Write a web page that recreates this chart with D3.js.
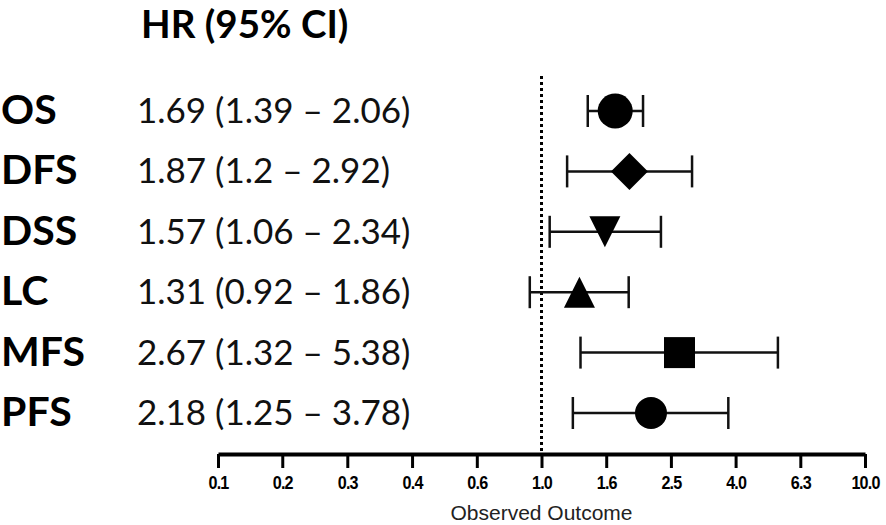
<!DOCTYPE html>
<html>
<head>
<meta charset="utf-8">
<script src="https://cdn.jsdelivr.net/npm/d3@7"></script>
<style>
  body { margin: 0; background: #fff; }
  svg { display: block; }
</style>
</head>
<body>
<div id="chart"></div>
<script>
// data
const outcomes = ["OS", "DFS", "DSS", "LC", "MFS", "PFS"]
const hr = [1.69, 1.87, 1.57, 1.31, 2.67, 2.18]
const lower = [1.39, 1.2, 1.06, 0.92, 1.32, 1.25]
const upper = [2.06, 2.92, 2.34, 1.86, 5.38, 3.78]
const shapes = ["circle", "diamond", "triangleDown", "triangle", "square", "circle"]
const tickValues = [0.1, 0.158, 0.251, 0.398, 0.631, 1.0, 1.585, 2.512, 3.981, 6.31, 10.0]
const tickLabels = ["0.1", "0.2", "0.3", "0.4", "0.6", "1.0", "1.6", "2.5", "4.0", "6.3", "10.0"]

const W = 886, H = 525
const svg = d3.select("#chart").append("svg")
    .attr("width", W)
    .attr("height", H)

const x = d3.scaleLog().domain([0.1, 10]).range([218, 865])
const y = d3.scalePoint().domain(outcomes).range([111, 413])
const axisY = 454

// header
svg.append("text")
    .attr("x", 141)
    .attr("y", 38)
    .attr("font-family", "Lato, sans-serif")
    .attr("font-weight", "bold")
    .attr("font-size", 38.5)
    .text("HR (95% CI)")

// row labels and HR text
const rows = svg.append("g").selectAll("g")
    .data(outcomes)
    .enter()
    .append("g")

rows.append("text")
    .attr("x", 1)
    .attr("y", d => y(d) + 13)
    .attr("font-family", "Lato, sans-serif")
    .attr("font-weight", "bold")
    .attr("font-size", 41)
    .text(d => d)

const fmt = v => String(v)
rows.append("text")
    .attr("x", 137)
    .attr("y", d => y(d) + 12)
    .attr("font-family", "Lato, sans-serif")
    .attr("font-size", 35)
    .attr("fill", "#111")
    .text((d, i) => `${fmt(hr[i])} (${fmt(lower[i])} \u2013 ${fmt(upper[i])})`)

// reference line at 1
svg.append("line")
    .attr("x1", x(1))
    .attr("x2", x(1))
    .attr("y1", 76)
    .attr("y2", axisY)
    .attr("stroke", "#000")
    .attr("stroke-width", 3)
    .attr("stroke-dasharray", "3,3")

// error bars
const bars = svg.append("g").selectAll("g")
    .data(outcomes)
    .enter()
    .append("g")
    .attr("stroke", "#111")
    .attr("stroke-width", 2.5)

bars.append("line")
    .attr("x1", (d, i) => x(lower[i]))
    .attr("x2", (d, i) => x(upper[i]))
    .attr("y1", d => y(d))
    .attr("y2", d => y(d))

bars.append("line")
    .attr("x1", (d, i) => x(lower[i]))
    .attr("x2", (d, i) => x(lower[i]))
    .attr("y1", d => y(d) - 16)
    .attr("y2", d => y(d) + 16)

bars.append("line")
    .attr("x1", (d, i) => x(upper[i]))
    .attr("x2", (d, i) => x(upper[i]))
    .attr("y1", d => y(d) - 16)
    .attr("y2", d => y(d) + 16)

// markers
const shapePath = (s, r) => {
    if (s === "diamond") return `M0,${-r}L${r},0L0,${r}L${-r},0Z`
    if (s === "square") return `M${-r},${-r}H${r}V${r}H${-r}Z`
    if (s === "triangle") return `M0,${-r}L${r},${r}H${-r}Z`
    if (s === "triangleDown") return `M0,${r}L${r},${-r}H${-r}Z`
    return null
}

const marks = svg.append("g").selectAll("g")
    .data(outcomes)
    .enter()
    .append("g")
    .attr("transform", (d, i) => `translate(${x(hr[i])},${y(d)})`)

marks.filter((d, i) => shapes[i] === "circle")
    .append("circle")
    .attr("r", (d, i) => d === "OS" ? 17.5 : 16)
    .attr("fill", "#000")

marks.filter((d, i) => shapes[i] !== "circle")
    .append("path")
    .attr("d", d => {
        const s = shapes[outcomes.indexOf(d)]
        const r = s === "diamond" ? 18.5 : 15.5
        return shapePath(s, r)
    })
    .attr("fill", "#000")

// axis
const axis = d3.axisBottom(x)
    .tickValues(tickValues)
    .tickFormat((d, i) => tickLabels[i])
    .tickSize(14)
    .tickSizeOuter(0)

const ax = svg.append("g")
    .attr("transform", `translate(0,${axisY})`)
    .call(axis)

ax.select(".domain").attr("stroke-width", 4).attr("stroke", "#000")
ax.selectAll(".tick line").attr("stroke-width", 3).attr("stroke", "#000")
// narrow bold labels: squeeze horizontally
ax.selectAll(".tick text")
    .attr("font-family", "'Liberation Sans', Arial, sans-serif")
    .attr("font-weight", "bold")
    .attr("font-size", 19)
    .attr("letter-spacing", -1)
    .attr("fill", "#000")
    .attr("y", 0)
    .attr("dy", 0)
    .attr("transform", "translate(0,34.5) scale(0.85,1)")

svg.append("text")
    .attr("x", x(1))
    .attr("y", 520)
    .attr("text-anchor", "middle")
    .attr("font-family", "'Liberation Sans', Arial, sans-serif")
    .attr("font-size", 21)
    .attr("fill", "#222")
    .text("Observed Outcome")
</script>
</body>
</html>
